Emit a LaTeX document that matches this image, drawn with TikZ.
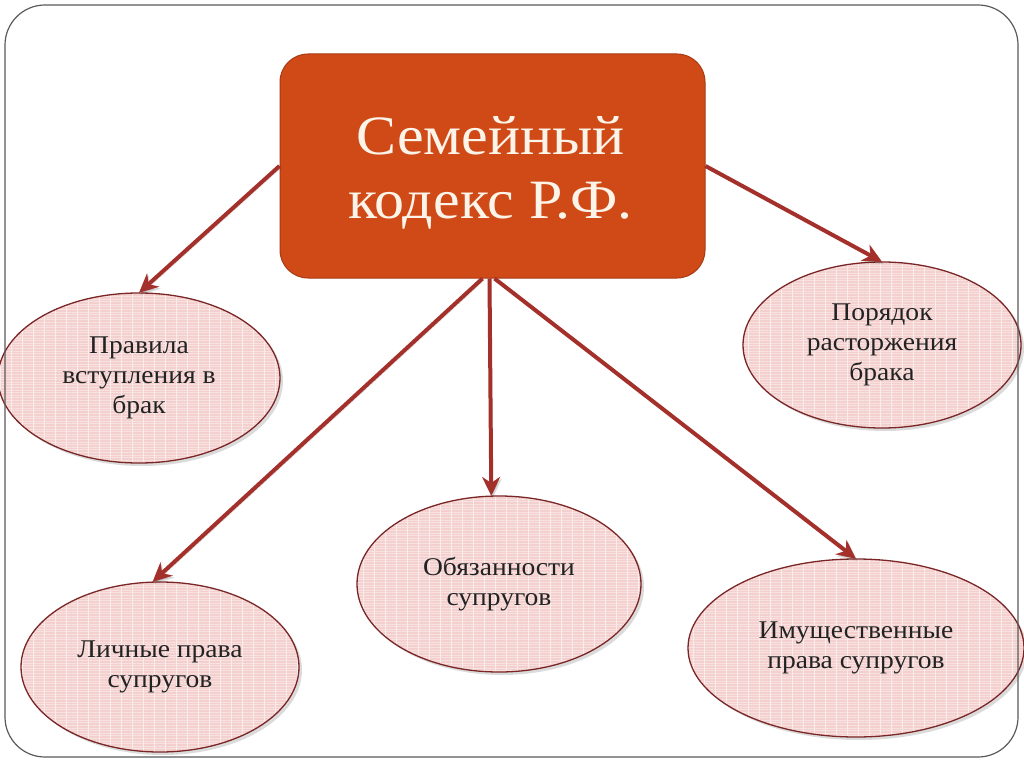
\documentclass[tikz,border=0pt]{standalone}
\usepackage{fontspec}
\setmainfont{Liberation Serif}[FakeStretch=1.08]
\usetikzlibrary{shapes.geometric,shadows,arrows.meta,patterns.meta}
\definecolor{boxfill}{HTML}{D04A18}
\definecolor{boxborder}{HTML}{A83A14}
\definecolor{boxtext}{HTML}{FCF4E8}
\definecolor{ellfill}{HTML}{F3D0CE}
\definecolor{ellborder}{HTML}{7A2626}
\definecolor{arrcol}{HTML}{A3302A}
\definecolor{framecol}{HTML}{5A5A5A}
\definecolor{txt}{HTML}{222222}
\begin{document}
\begin{tikzpicture}[x=1pt,y=-1pt,
  ell/.style={ellipse, fill=ellfill,
    drop shadow={opacity=0.28, shadow xshift=3pt, shadow yshift=-3pt},
    postaction={pattern={Lines[angle=0,distance=2.6pt,line width=0.6pt]}, pattern color=white!40!ellfill},
    postaction={pattern={Lines[angle=90,distance=11pt,line width=0.5pt]}, pattern color=white!60!ellfill},
    postaction={draw=ellborder, line width=1.3pt},
    inner sep=0pt, align=center, text=txt, font=\fontsize{25.5}{30}\selectfont},
  mainbox/.style={rectangle, rounded corners=28pt, fill=boxfill, draw=boxborder, line width=1pt,
    inner sep=0pt},
  boxlabel/.style={inner sep=0pt, align=center, text=boxtext, font=\fontsize{55.5}{64}\selectfont},
  arr/.style={draw=arrcol, line width=4pt, -{Stealth[length=19pt,width=18pt,inset=6pt]},
    preaction={draw=black, opacity=0.15, transform canvas={shift={(1.5pt,-2pt)}}}}
]
\useasboundingbox (0,0) rectangle (1024,767);
\fill[white] (0,0) rectangle (1024,767);

\node[ell, minimum width=282pt, minimum height=170pt] (e1) at (139,378) {Правила\\вступления в\\брак};
\node[ell, minimum width=278pt, minimum height=166pt] (e2) at (882,345) {Порядок\\расторжения\\брака};
\node[ell, minimum width=278pt, minimum height=170pt] (e3) at (160,667) {Личные права\\супругов};
\node[ell, minimum width=284pt, minimum height=176pt] (e4) at (499,584) {Обязанности\\супругов};
\node[ell, minimum width=336pt, minimum height=178pt] (e5) at (856,648) {Имущественные\\права супругов};

\node[mainbox, minimum width=425pt, minimum height=224pt] (box) at (492.5,166) {};
\node[boxlabel] (boxtxt) at ([xshift=-2pt,yshift=-7pt]box.center) {Семейный\\кодекс Р.Ф.};

\draw[arr] (box.west) -- (e1.north);
\draw[arr] (box.east) -- (e2.north);
\draw[arr] ([xshift=-10pt]box.south) -- (e3.95);
\draw[arr] ([xshift=-3pt]box.south) -- (e4.95);
\draw[arr] ([xshift=2pt]box.south) -- (e5.north);

\draw[framecol, line width=1.2pt, rounded corners=40pt] (5,5) rectangle (1018,757);
\end{tikzpicture}
\end{document}
